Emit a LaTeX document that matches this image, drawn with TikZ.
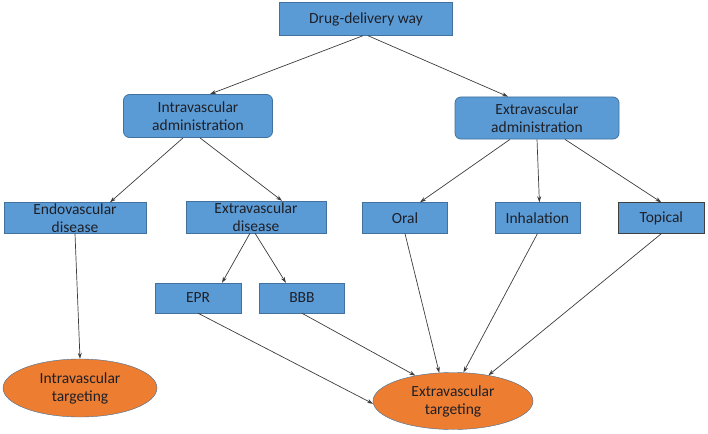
\documentclass[tikz,border=0pt]{standalone}
\usepackage{fontspec}
\setmainfont{Carlito}
\usetikzlibrary{arrows.meta,calc,positioning,shapes}

\definecolor{boxblue}{RGB}{91,155,213}
\definecolor{boxedge}{RGB}{65,113,156}
\definecolor{ovalorange}{RGB}{237,125,49}
\definecolor{linegray}{RGB}{60,60,60}
\definecolor{inktext}{RGB}{30,32,40}

\begin{document}
\begin{tikzpicture}[x=1pt,y=-1pt,>={Stealth[length=6pt,width=4pt]}]
	\tikzstyle{block} = [draw=boxedge, fill=boxblue, rectangle, inner sep=0pt, align=center, text=inktext, font=\fontsize{15.5}{18}\selectfont]
	\tikzstyle{rblock} = [block, rounded corners=6pt, line width=0.8pt]
	\tikzstyle{target} = [draw=boxedge, fill=ovalorange, ellipse, inner sep=0pt, align=center, text=inktext, font=\fontsize{15.5}{18}\selectfont]
	\tikzstyle{link} = [->, draw=linegray, line width=0.7pt]
	
	\useasboundingbox (0,0) rectangle (708,433);
	
	\node [block, minimum width=173, minimum height=33] (drug) at (366,19) {Drug-delivery way};
	
	\node [rblock, minimum width=149, minimum height=43] (intra) at (198,116) {Intravascular\\administration};
	\node [rblock, minimum width=164, minimum height=42] (extra) at (537,118) {Extravascular\\administration};
	
	\node [block, minimum width=142, minimum height=31] (endo) at (75,218) {Endovascular\\disease};
	\node [block, minimum width=140, minimum height=32] (exdis) at (256,217) {Extravascular\\disease};
	
	\node [block, minimum width=85, minimum height=31] (oral) at (405,218) {Oral};
	\node [block, minimum width=85, minimum height=31, right = 47 of oral] (inhal) {Inhalation};
	\node [block, draw=black!75, minimum width=86, minimum height=31, right = 38 of inhal] (topical) {Topical};
	
	\node [block, minimum width=86, minimum height=30] (epr) at (198,298) {EPR};
	\node [block, minimum width=85, minimum height=30, right = 18 of epr] (bbb) {BBB};
	
	\node [target, minimum width=154, minimum height=58] (itarget) at (80,388) {Intravascular\\targeting};
	\node [target, minimum width=160, minimum height=57] (etarget) at (453,401) {Extravascular\\targeting};
	
	\draw [link] ([xshift=-3]drug.south) -- ([xshift=12]intra.north);
	\draw [link] ([xshift=2]drug.south) -- ([xshift=-29]extra.north);
	
	\draw [link] ([xshift=-15]intra.south) -- ([xshift=35]endo.north);
	\draw [link] ([xshift=2]intra.south) -- ([xshift=26]exdis.north);
	
	\draw [link] ([xshift=-27]extra.south) -- ([xshift=15]oral.north);
	\draw [link] (extra.south) -- ([xshift=2]inhal.north);
	\draw [link] ([xshift=28]extra.south) -- (topical.north);
	
	\draw [link] ([xshift=-6]exdis.south) -- ([xshift=24]epr.north);
	\draw [link] ([xshift=-1]exdis.south) -- ([xshift=-16]bbb.north);
	
	\draw [link] (endo.south) -- (itarget.north);
	
	\draw [link] (oral.south) -- (etarget.116);
	\draw [link] (inhal.south) -- (etarget.70);
	\draw [link] (topical.south) -- (etarget.36);
	\draw [link] (epr.south) -- (etarget.182);
	\draw [link] (bbb.south) -- (etarget.146);
	
\end{tikzpicture}
\end{document}
